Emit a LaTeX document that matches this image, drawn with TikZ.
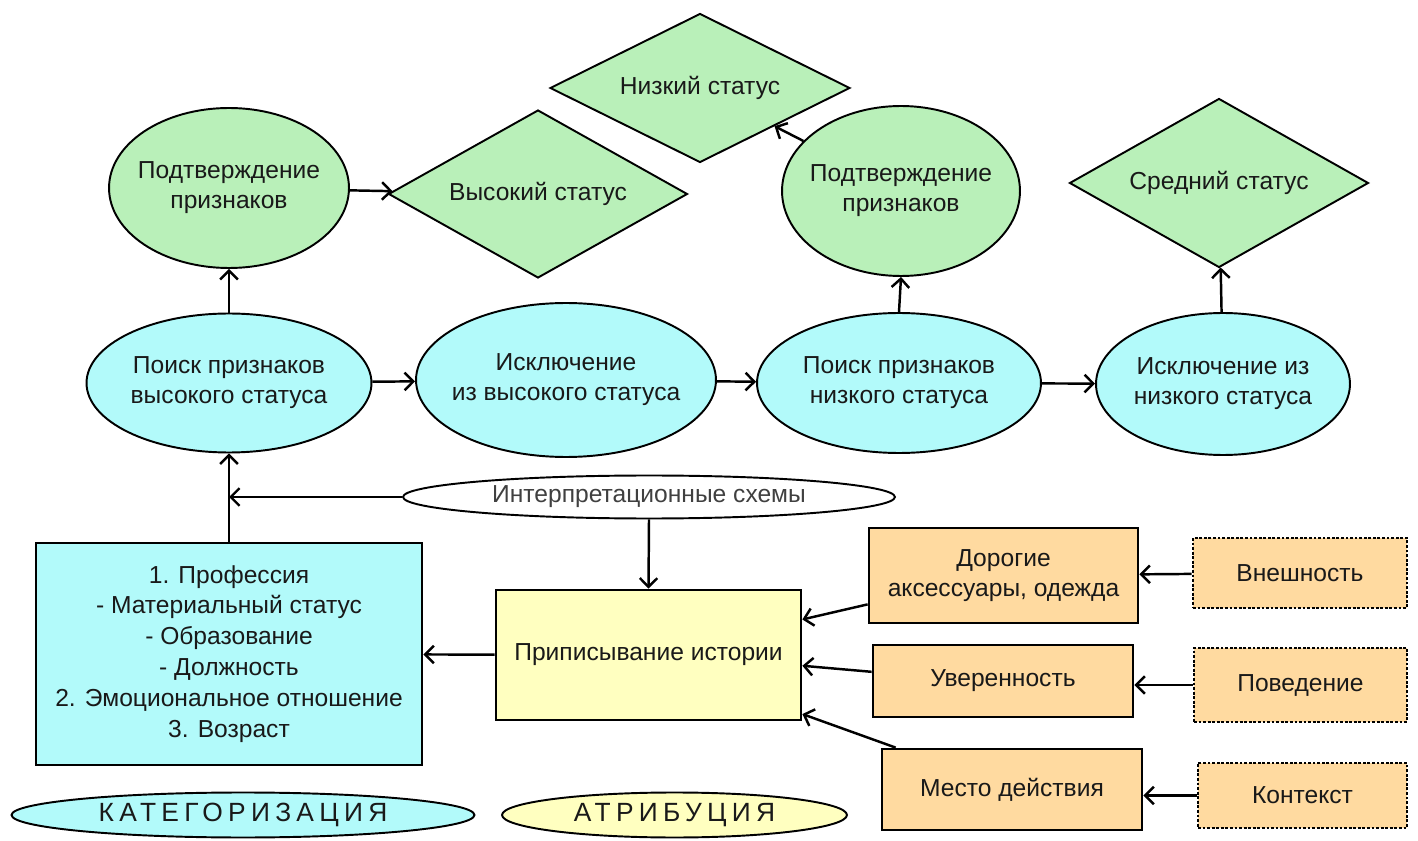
\documentclass[tikz,border=0pt]{standalone}
\usepackage{fontspec}
\setmainfont{Liberation Sans}
\newfontfamily\spacedfont[LetterSpace=20]{Liberation Sans}
\usetikzlibrary{shapes.geometric, arrows.meta}

\definecolor{leafgreen}{RGB}{185,240,185}
\definecolor{skycyan}{RGB}{178,250,250}
\definecolor{paleyellow}{RGB}{255,255,192}
\definecolor{sand}{RGB}{255,218,160}

\begin{document}
\begin{tikzpicture}[x=0.02cm, y=-0.02cm,
        every node/.style={font=\fontsize{14}{17}\selectfont, align=center, text=black!90},
        ell/.style={ellipse, draw, line width=1.1pt, inner xsep=-1cm, inner ysep=0pt},
        greenell/.style={ell, fill=leafgreen},
        cyanell/.style={ell, fill=skycyan},
        status/.style={diamond, aspect=3, draw, line width=1.1pt, fill=leafgreen, inner sep=0pt},
        box/.style={rectangle, draw, line width=1.6pt},
        dotbox/.style={rectangle, draw, densely dotted, line width=1.6pt, fill=sand},
        legend/.style={ell, font=\spacedfont\fontsize{15}{17}\selectfont},
        arr/.style={line width=1.4pt, -{Straight Barb[length=5pt, width=10pt]}}]
                \useasboundingbox (0,0) rectangle (1418,841);

                % status diamonds and confirmations
                \node [status, minimum width=6cm, minimum height=2.98cm] (lo) at (700,88) {Низкий статус};
                \node [status, minimum width=5.98cm, minimum height=3.36cm] (hi) at (538,194) {Высокий статус};
                \node [status, minimum width=5.98cm, minimum height=3.38cm] (mid) at (1219,183) {Средний статус};
                \node [greenell, minimum width=4.8cm, minimum height=3.2cm] (pc1) at (229,188) {Подтверждение\\признаков};
                \node [greenell, minimum width=4.76cm, minimum height=3.4cm] (pc2) at (901,191) {Подтверждение\\признаков};

                % search row
                \node [cyanell, minimum width=5.7cm, minimum height=2.78cm] (sh) at (229,383) {Поиск признаков\\высокого статуса};
                \node [cyanell, minimum width=6cm, minimum height=3.08cm] (eh) at (566,380) {Исключение\\из высокого статуса};
                \node [cyanell, minimum width=5.68cm, minimum height=2.8cm] (sl) at (899,383) {Поиск признаков\\низкого статуса};
                \node [cyanell, minimum width=5.08cm, minimum height=2.84cm] (el) at (1223,384) {Исключение из\\низкого статуса};

                \node [ell, fill=white, minimum width=9.84cm, minimum height=0.86cm, text=black!75] (interp) at (649,497) {Интерпретационные схемы};

                % lower part
                \node [box, fill=skycyan, minimum width=7.72cm, minimum height=4.44cm, font=\fontsize{14}{17.6}\selectfont] (cat) at (229,654)
                    {1. Профессия\\- Материальный статус\\- Образование\\- Должность\\2. Эмоциональное отношение\\3. Возраст};
                \node [box, fill=paleyellow, minimum width=6.1cm, minimum height=2.6cm] (attr) at (648.5,655) {Приписывание истории};

                \node [box, fill=sand, minimum width=5.38cm, minimum height=1.9cm] (dor) at (1003.5,575.5) {Дорогие\\аксессуары, одежда};
                \node [box, fill=sand, minimum width=5.2cm, minimum height=1.44cm] (uve) at (1003,681) {Уверенность};
                \node [box, fill=sand, minimum width=5.2cm, minimum height=1.62cm] (mes) at (1012,789.5) {Место действия};

                \node [dotbox, minimum width=4.28cm, minimum height=1.4cm] (vne) at (1300,573) {Внешность};
                \node [dotbox, minimum width=4.26cm, minimum height=1.48cm] (pov) at (1300.5,685) {Поведение};
                \node [dotbox, minimum width=4.18cm, minimum height=1.3cm] (kon) at (1302.5,795.5) {Контекст};

                \node [legend, fill=skycyan, minimum width=9.26cm, minimum height=0.9cm] (kat) at (243,815) {КАТЕГОРИЗАЦИЯ};
                \node [legend, fill=paleyellow, minimum width=6.9cm, minimum height=0.9cm] (atr) at (674.5,815) {АТРИБУЦИЯ};

                % connectors
                \draw [arr] (pc1) -- (hi);
                \draw [arr] (pc2) -- (lo);
                \draw [arr] (sh) -- (pc1);
                \draw [arr] (sl.north) -- (pc2.south);
                \draw [arr] (el) -- (mid);
                \draw [arr] (sh) -- (eh);
                \draw [arr] (eh) -- (sl);
                \draw [arr] (sl) -- (el);

                \draw [arr] (cat.north) -- (sh.south);
                \draw [arr] (interp.west) -- (interp.west -| cat.north);
                \draw [arr] (interp.south) -- (attr.north);
                \draw [arr] (attr) -- (cat);

                \draw [arr] (dor.192) -- (attr.13);
                \draw [arr] (uve.176) -- (attr.-4);
                \draw [arr] ([xshift=0.3cm]mes.north west) -- (attr.-21);

                \draw [arr] (vne) -- (dor);
                \draw [arr] (pov.west) -- (pov.west -| uve.east);
                \draw [arr] (kon.west) -- (kon.west -| mes.east);
            \end{tikzpicture}
\end{document}
